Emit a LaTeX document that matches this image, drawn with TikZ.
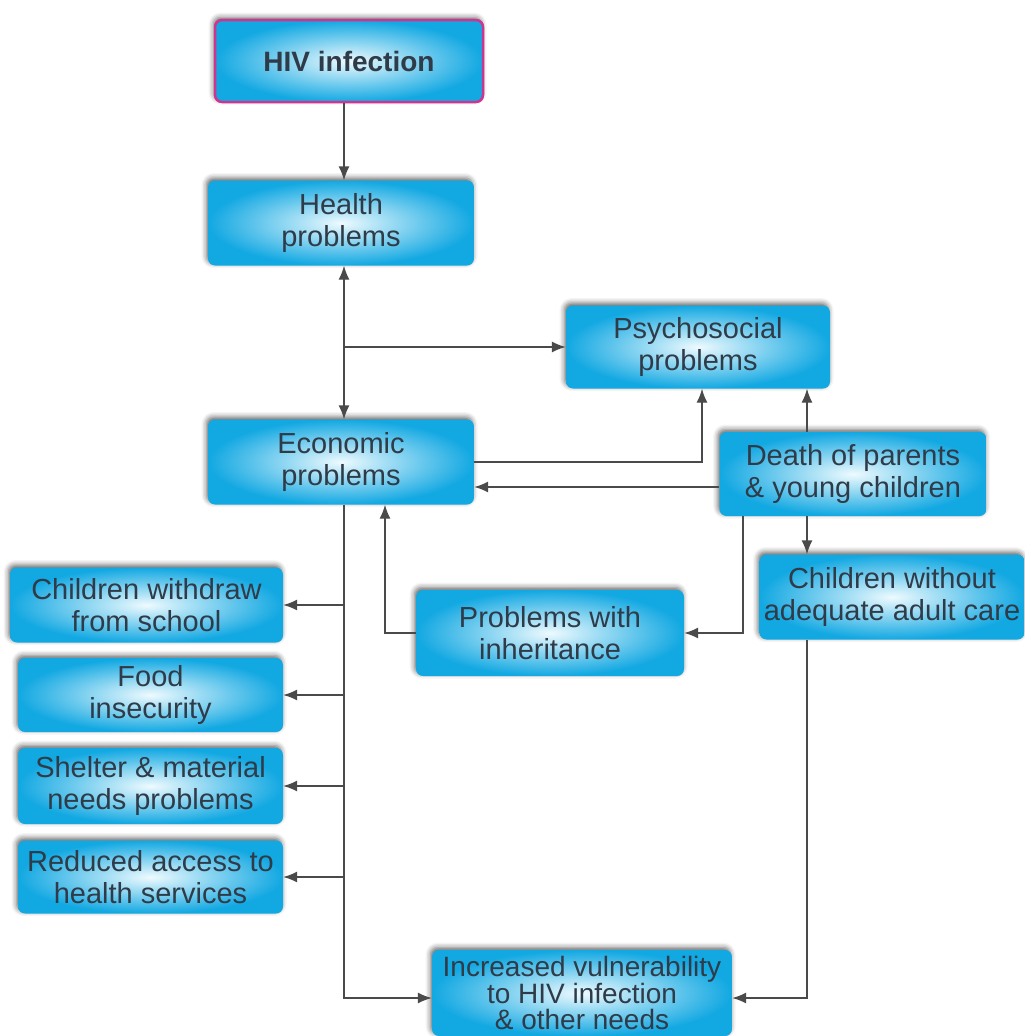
\documentclass[tikz,border=0pt]{standalone}
\usepackage{fontspec}
\setmainfont{Liberation Sans}
\usetikzlibrary{arrows.meta,shadows.blur}
\definecolor{boxcyan}{HTML}{12A8E2}
\definecolor{boxlight}{HTML}{EEFAFE}
\definecolor{boxtext}{HTML}{2F3B48}
\definecolor{hivpink}{HTML}{CF3490}
\definecolor{linegray}{HTML}{4A4A4A}

\begin{document}
\begin{tikzpicture}[x=1pt,y=-1pt,
  box/.style={rectangle,rounded corners=7pt,inner color=boxlight,outer color=boxcyan,
    text=boxtext,align=center,inner sep=2pt,font=\fontsize{29}{32}\selectfont,
    blur shadow={shadow xshift=-1.5pt,shadow yshift=2.5pt,shadow blur radius=5pt,shadow opacity=60}},
  hivbox/.style={draw=hivpink,line width=2.5pt,font=\fontsize{28}{32}\selectfont\bfseries},
  link/.style={draw=linegray,line width=1.4pt,-{Latex[length=14pt,width=11pt]}}]
\useasboundingbox (0,0) rectangle (1025,1036);
\pgfmathsetmacro{\boxw}{266}
\pgfmathsetmacro{\boxh}{85}

\node[box,hivbox,minimum width=268pt,minimum height=82pt] (hiv) at (349,61) {HIV infection};
\node[box,minimum width=\boxw pt,minimum height=\boxh pt] (health) at (341,223) {Health\\problems};
\node[box,minimum width=264pt,minimum height=83pt] (psych) at (698,347) {Psychosocial\\problems};
\node[box,minimum width=\boxw pt,minimum height=\boxh pt] (econ) at (341,462) {Economic\\problems};
\node[box,minimum width=267pt,minimum height=84pt] (death) at (853,474) {Death of parents\\\& young children};
\node[box,minimum width=273pt,minimum height=75pt] (withdraw) at (146.5,605) {Children withdraw\\from school};
\node[box,minimum width=265pt,minimum height=74pt] (food) at (150.5,695) {Food\\insecurity};
\node[box,minimum width=265pt,minimum height=76pt] (shelter) at (150.5,786) {Shelter \& material\\needs problems};
\node[box,minimum width=265pt,minimum height=73pt] (reduced) at (150.5,877) {Reduced access to\\health services};
\node[box,minimum width=268pt,minimum height=86pt] (inherit) at (550,633) {Problems with\\inheritance};
\node[box,minimum width=265pt,minimum height=85pt] (nocare) at (892,597) {Children without\\adequate adult care};
\node[box,minimum width=300pt,minimum height=86pt,font=\fontsize{28}{26.5}\selectfont] (vuln) at (582,993)
  {Increased vulnerability\\to HIV infection\\\& other needs};

\coordinate (spine) at (344,0);
\coordinate (psyfork) at (344,347);

\draw[link] (hiv.south -| spine) -- (health.north -| spine);
\draw[link,{Latex[length=14pt,width=11pt]}-{Latex[length=14pt,width=11pt]}] (health.south -| spine) -- (econ.north -| spine);
\draw[link] (psyfork) -- (psych.west);
\draw[link] (econ.east) -| ([xshift=4pt]psych.south);
\draw[link] ([yshift=-13pt]death.west) -- ([yshift=-13pt]death.west -| econ.east);
\draw[link] ([xshift=-46pt]death.north) -- ([xshift=-46pt]death.north |- psych.south);
\draw[link] ([xshift=-46pt]death.south) -- ([xshift=-46pt]death.south |- nocare.north);
\draw[link] ([xshift=-110pt]death.south) |- (inherit.east);
\draw[link] (inherit.west) -| ([xshift=44pt]econ.south);
\draw[link] (econ.south -| spine) |- ([yshift=-5pt]vuln.west);
\foreach \n in {withdraw,food,shelter,reduced}
  \draw[link] (spine |- \n.east) -- (\n.east);
\draw[link] ([xshift=-85pt]nocare.south) |- ([yshift=-5pt]vuln.east);
\end{tikzpicture}
\end{document}
